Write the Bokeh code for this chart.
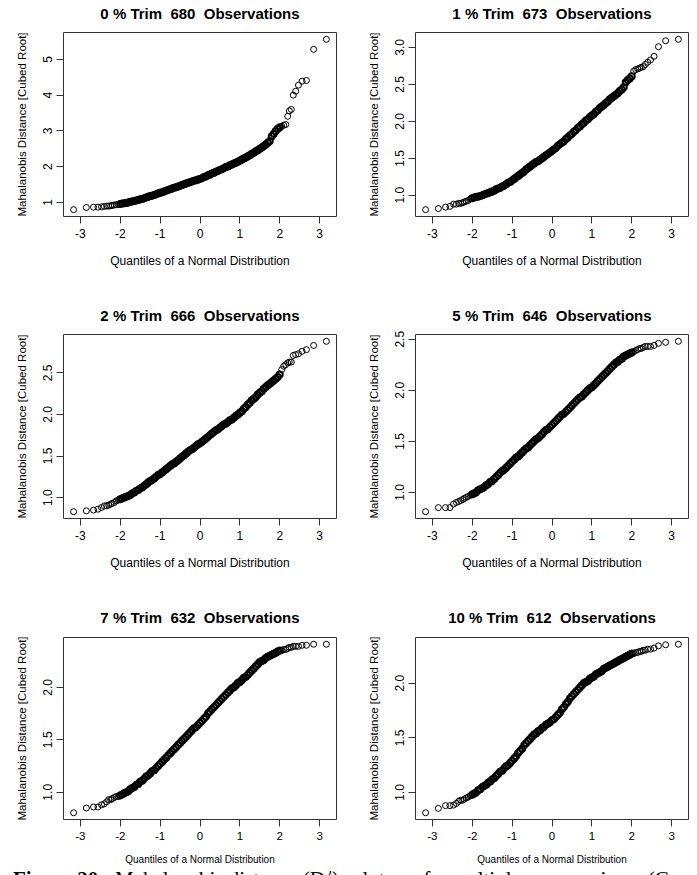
from bokeh.plotting import figure
from bokeh.layouts import column, row
from bokeh.models import FixedTicker, PrintfTickFormatter, Range1d, Div
from bokeh.core.properties import value
from bokeh.embed import file_html
from bokeh.resources import INLINE

# ---------------- data ----------------
TITLES = ["0 % Trim  680  Observations", "1 % Trim  673  Observations",
          "2 % Trim  666  Observations", "5 % Trim  646  Observations",
          "7 % Trim  632  Observations", "10 % Trim  612  Observations"]
X_LABEL = "Quantiles of a Normal Distribution"
Y_LABEL = "Mahalanobis Distance [Cubed Root]"
X_TICKS = [-3, -2, -1, 0, 1, 2, 3]
Y_TICKS = [[1, 2, 3, 4, 5], [1.0, 1.5, 2.0, 2.5, 3.0], [1.0, 1.5, 2.0, 2.5],
           [1.0, 1.5, 2.0, 2.5], [1.0, 1.5, 2.0], [1.0, 1.5, 2.0]]
Y_FORMATS = ["%d", "%.1f", "%.1f", "%.1f", "%.1f", "%.1f"]

# normal quantiles (x) of the sparse lower tail, the dense body and the sparse upper tail
X_TAIL_LO = [-3.17, -2.85, -2.67, -2.56, -2.47, -2.40, -2.34, -2.29, -2.24]
X_DENSE = [-2.20, -2.15, -2.10, -2.05, -2.00, -1.95, -1.90, -1.85, -1.80, -1.75,
           -1.70, -1.65, -1.60, -1.55, -1.50, -1.45, -1.40, -1.35, -1.30, -1.25,
           -1.20, -1.15, -1.10, -1.05, -1.00, -0.95, -0.90, -0.85, -0.80, -0.75,
           -0.70, -0.65, -0.60, -0.55, -0.50, -0.45, -0.40, -0.35, -0.30, -0.25,
           -0.20, -0.15, -0.10, -0.05, 0.00, 0.05, 0.10, 0.15, 0.20, 0.25,
           0.30, 0.35, 0.40, 0.45, 0.50, 0.55, 0.60, 0.65, 0.70, 0.75,
           0.80, 0.85, 0.90, 0.95, 1.00, 1.05, 1.10, 1.15, 1.20, 1.25,
           1.30, 1.35, 1.40, 1.45, 1.50, 1.55, 1.60, 1.65, 1.70, 1.75,
           1.80, 1.85, 1.90, 1.95, 2.00, 2.05, 2.10, 2.15, 2.20]
X_TAIL_HI = [2.24, 2.29, 2.34, 2.40, 2.47, 2.56, 2.67, 2.85, 3.17]

# cubed-root Mahalanobis distances, one set per panel
TRIM0_LO = [0.80, 0.86, 0.87, 0.87, 0.88, 0.89, 0.90, 0.90, 0.91]
TRIM0_MID = [0.92, 0.93, 0.94, 0.95, 0.96, 0.97, 0.98, 0.99, 1.00, 1.02,
             1.03, 1.04, 1.06, 1.07, 1.09, 1.10, 1.12, 1.14, 1.16, 1.18,
             1.19, 1.21, 1.23, 1.25, 1.27, 1.29, 1.31, 1.33, 1.35, 1.37,
             1.39, 1.41, 1.43, 1.45, 1.47, 1.49, 1.51, 1.53, 1.55, 1.57,
             1.59, 1.61, 1.62, 1.64, 1.66, 1.68, 1.71, 1.73, 1.76, 1.78,
             1.81, 1.83, 1.86, 1.88, 1.91, 1.93, 1.96, 1.99, 2.01, 2.04,
             2.06, 2.09, 2.11, 2.14, 2.17, 2.20, 2.23, 2.26, 2.29, 2.32,
             2.36, 2.39, 2.43, 2.46, 2.50, 2.54, 2.58, 2.62, 2.67, 2.72,
             2.85, 2.92, 3.00, 3.06, 3.10, 3.13, 3.16, 3.18, 3.41]
TRIM0_HI = [3.56, 3.60, 4.00, 4.11, 4.28, 4.39, 4.41, 5.28, 5.56]

TRIM1_LO = [0.805, 0.82, 0.84, 0.85, 0.88, 0.88, 0.89, 0.89, 0.90]
TRIM1_MID = [0.91, 0.92, 0.93, 0.95, 0.96, 0.97, 0.98, 0.98, 0.99, 1.00,
             1.01, 1.02, 1.03, 1.04, 1.05, 1.06, 1.08, 1.09, 1.10, 1.12,
             1.13, 1.15, 1.17, 1.18, 1.20, 1.22, 1.24, 1.26, 1.28, 1.30,
             1.32, 1.35, 1.37, 1.39, 1.41, 1.43, 1.45, 1.46, 1.48, 1.50,
             1.52, 1.54, 1.56, 1.58, 1.60, 1.62, 1.64, 1.67, 1.69, 1.71,
             1.73, 1.76, 1.78, 1.81, 1.83, 1.86, 1.88, 1.91, 1.93, 1.96,
             1.98, 2.01, 2.03, 2.06, 2.08, 2.10, 2.13, 2.15, 2.18, 2.20,
             2.22, 2.25, 2.27, 2.30, 2.32, 2.34, 2.36, 2.38, 2.41, 2.43,
             2.46, 2.53, 2.56, 2.58, 2.61, 2.68, 2.70, 2.71, 2.72]
TRIM1_HI = [2.73, 2.74, 2.77, 2.80, 2.83, 2.88, 3.01, 3.09, 3.11]

TRIM2_LO = [0.83, 0.84, 0.85, 0.86, 0.88, 0.90, 0.90, 0.91, 0.92]
TRIM2_MID = [0.93, 0.94, 0.96, 0.97, 0.98, 0.99, 1.00, 1.01, 1.02, 1.03,
             1.05, 1.06, 1.08, 1.09, 1.11, 1.12, 1.14, 1.16, 1.18, 1.20,
             1.21, 1.23, 1.25, 1.27, 1.28, 1.30, 1.32, 1.34, 1.36, 1.38,
             1.40, 1.41, 1.43, 1.45, 1.47, 1.49, 1.51, 1.53, 1.55, 1.57,
             1.58, 1.60, 1.62, 1.64, 1.65, 1.67, 1.69, 1.71, 1.73, 1.75,
             1.77, 1.79, 1.81, 1.82, 1.84, 1.86, 1.88, 1.89, 1.91, 1.93,
             1.94, 1.96, 1.98, 2.00, 2.02, 2.04, 2.07, 2.09, 2.12, 2.14,
             2.17, 2.19, 2.21, 2.24, 2.26, 2.28, 2.31, 2.33, 2.35, 2.37,
             2.39, 2.41, 2.43, 2.45, 2.48, 2.54, 2.58, 2.60, 2.62]
TRIM2_HI = [2.63, 2.63, 2.71, 2.72, 2.73, 2.76, 2.78, 2.83, 2.88]

TRIM5_LO = [0.81, 0.85, 0.85, 0.85, 0.885, 0.90, 0.91, 0.92, 0.93]
TRIM5_MID = [0.94, 0.95, 0.96, 0.97, 0.98, 0.99, 1.00, 1.02, 1.03, 1.04,
             1.05, 1.07, 1.08, 1.10, 1.11, 1.13, 1.15, 1.17, 1.19, 1.21,
             1.22, 1.24, 1.26, 1.28, 1.30, 1.32, 1.34, 1.35, 1.37, 1.39,
             1.41, 1.43, 1.44, 1.46, 1.48, 1.50, 1.52, 1.53, 1.55, 1.57,
             1.59, 1.61, 1.62, 1.64, 1.66, 1.68, 1.70, 1.72, 1.74, 1.76,
             1.77, 1.79, 1.81, 1.83, 1.85, 1.87, 1.89, 1.91, 1.93, 1.94,
             1.96, 1.98, 2.00, 2.02, 2.03, 2.05, 2.07, 2.09, 2.11, 2.13,
             2.15, 2.17, 2.19, 2.21, 2.23, 2.25, 2.27, 2.28, 2.30, 2.31,
             2.33, 2.34, 2.35, 2.36, 2.37, 2.38, 2.39, 2.40, 2.41]
TRIM5_HI = [2.41, 2.42, 2.43, 2.43, 2.43, 2.44, 2.46, 2.47, 2.48]

TRIM7_LO = [0.805, 0.85, 0.86, 0.86, 0.88, 0.89, 0.91, 0.93, 0.93]
TRIM7_MID = [0.94, 0.95, 0.96, 0.96, 0.97, 0.98, 0.99, 1.00, 1.01, 1.03,
             1.04, 1.05, 1.07, 1.08, 1.10, 1.11, 1.13, 1.15, 1.16, 1.18,
             1.20, 1.21, 1.23, 1.25, 1.27, 1.29, 1.31, 1.33, 1.35, 1.37,
             1.39, 1.41, 1.43, 1.45, 1.47, 1.49, 1.51, 1.53, 1.55, 1.57,
             1.59, 1.61, 1.62, 1.64, 1.66, 1.68, 1.70, 1.72, 1.75, 1.77,
             1.79, 1.81, 1.83, 1.85, 1.87, 1.89, 1.91, 1.93, 1.95, 1.97,
             1.99, 2.00, 2.02, 2.04, 2.05, 2.07, 2.09, 2.10, 2.12, 2.14,
             2.16, 2.18, 2.20, 2.22, 2.24, 2.25, 2.26, 2.28, 2.29, 2.30,
             2.31, 2.32, 2.33, 2.34, 2.35, 2.35, 2.36, 2.36, 2.37]
TRIM7_HI = [2.38, 2.38, 2.39, 2.39, 2.39, 2.40, 2.40, 2.41, 2.41]

TRIM10_LO = [0.815, 0.855, 0.88, 0.88, 0.885, 0.90, 0.92, 0.93, 0.93]
TRIM10_MID = [0.94, 0.95, 0.96, 0.97, 0.98, 0.99, 1.00, 1.02, 1.03, 1.05,
              1.06, 1.07, 1.09, 1.10, 1.12, 1.13, 1.15, 1.17, 1.19, 1.20,
              1.22, 1.24, 1.25, 1.27, 1.29, 1.31, 1.33, 1.36, 1.38, 1.40,
              1.43, 1.45, 1.47, 1.49, 1.51, 1.53, 1.54, 1.56, 1.57, 1.59,
              1.60, 1.62, 1.63, 1.64, 1.66, 1.67, 1.69, 1.71, 1.73, 1.76,
              1.78, 1.81, 1.83, 1.86, 1.88, 1.90, 1.92, 1.94, 1.96, 1.98,
              2.00, 2.01, 2.02, 2.04, 2.05, 2.06, 2.08, 2.09, 2.10, 2.11,
              2.13, 2.14, 2.15, 2.16, 2.17, 2.18, 2.19, 2.20, 2.21, 2.22,
              2.23, 2.24, 2.25, 2.26, 2.27, 2.27, 2.28, 2.28, 2.29]
TRIM10_HI = [2.29, 2.30, 2.30, 2.31, 2.31, 2.32, 2.34, 2.35, 2.355]

PANEL_Y = [(TRIM0_LO, TRIM0_MID, TRIM0_HI), (TRIM1_LO, TRIM1_MID, TRIM1_HI),
           (TRIM2_LO, TRIM2_MID, TRIM2_HI), (TRIM5_LO, TRIM5_MID, TRIM5_HI),
           (TRIM7_LO, TRIM7_MID, TRIM7_HI), (TRIM10_LO, TRIM10_MID, TRIM10_HI)]

CAPTION_BOLD = "Figure 20."
CAPTION_LEFT = "Mahalanobis distance (D"
CAPTION_SUP = "2"
CAPTION_LEFT_END = ")"
CAPTION_RIGHT = "plots of multiple regression (C"

# ---------------- styling ----------------
SANS = "Liberation Sans"
SERIF = "Liberation Serif"
PAGE_W = 697
LEFT_W, RIGHT_W = 355, 342
FRAME_L = (63, 60)      # left border of the frame inside each column's figure
FRAME_W = 273


def strip(titles):
    """A thin band holding the two panel titles of one row, centred over the frames."""
    s = figure(width=PAGE_W, height=24, output_backend="svg", toolbar_location=None,
               title=None, x_range=Range1d(0, PAGE_W), y_range=Range1d(0, 24),
               x_axis_type=None, y_axis_type=None,
               min_border_left=0, min_border_right=0, min_border_top=0, min_border_bottom=0)
    s.outline_line_color = None
    s.xgrid.visible = False
    s.ygrid.visible = False
    centres = [FRAME_L[0] + FRAME_W / 2, LEFT_W + FRAME_L[1] + FRAME_W / 2]
    s.text(x=centres, y=[11, 11], text=[t.replace("  ", "\u00a0 ") for t in titles],
           text_font=value(SANS), text_font_size="15px", text_font_style="bold",
           text_color="black", text_align="center", text_baseline="middle")
    return s


def make_panel(k, col, rowi):
    lo, mid, hi = PANEL_Y[k]
    x_all = X_TAIL_LO + X_DENSE + X_TAIL_HI
    y_all = lo + mid + hi
    xpad = 0.04 * (max(x_all) - min(x_all))
    ypad = 0.04 * (max(y_all) - min(y_all))
    bottom = rowi == 2
    width = LEFT_W if col == 0 else RIGHT_W
    bl = FRAME_L[col]
    br = width - bl - FRAME_W
    if bottom:
        height, bt, bb = 239, 9, 46
    else:
        height, bt, bb = 278, 8, 86
    p = figure(width=width, height=height, output_backend="svg", toolbar_location=None,
               title=None,
               x_range=Range1d(min(x_all) - xpad, max(x_all) + xpad),
               y_range=Range1d(min(y_all) - ypad, max(y_all) + ypad),
               min_border_left=bl, min_border_right=br,
               min_border_top=bt, min_border_bottom=bb)

    p.xgrid.visible = False
    p.ygrid.visible = False
    p.outline_line_color = "#333333"
    p.outline_line_width = 1
    p.outline_line_alpha = 1.0
    p.background_fill_color = "white"
    p.border_fill_color = "white"

    xa = p.xaxis[0]
    xa.ticker = FixedTicker(ticks=X_TICKS)
    xa.formatter = PrintfTickFormatter(format="%d")
    xa.minor_tick_line_color = None
    xa.axis_line_color = None
    xa.major_tick_in = 0
    xa.major_tick_out = 7
    xa.major_tick_line_color = "#333333"
    xa.major_label_standoff = 5
    xa.major_label_text_color = "black"
    xa.major_label_text_font = SANS
    xa.major_label_text_font_size = "11.5px" if bottom else "12px"
    xa.axis_label = X_LABEL
    xa.axis_label_text_font = SANS
    xa.axis_label_text_font_size = "10px" if bottom else "12px"
    xa.axis_label_text_font_style = "normal"
    xa.axis_label_text_color = "black"
    xa.axis_label_standoff = 11 if bottom else 13

    ya = p.yaxis[0]
    ya.ticker = FixedTicker(ticks=Y_TICKS[k])
    ya.formatter = PrintfTickFormatter(format=Y_FORMATS[k])
    ya.minor_tick_line_color = None
    ya.axis_line_color = None
    ya.major_tick_in = 0
    ya.major_tick_out = 7
    ya.major_tick_line_color = "#333333"
    ya.major_label_standoff = 4
    ya.major_label_orientation = "vertical"
    ya.major_label_text_color = "black"
    ya.major_label_text_font = SANS
    ya.major_label_text_font_size = "12px"
    ya.axis_label = Y_LABEL
    ya.axis_label_text_font = SANS
    ya.axis_label_text_font_size = "11.5px"
    ya.axis_label_text_font_style = "normal"
    ya.axis_label_text_color = "black"
    ya.axis_label_standoff = 13

    # rings: the dense middle of the body overlaps into a solid band, so draw it heavier
    widths = [2.0 if abs(xv) <= 2.0 else 1.0 for xv in x_all]
    p.scatter(x_all, y_all, marker="circle", size=6, fill_color=None,
              line_color="black", line_width=widths)
    return p


panels = [make_panel(k, k % 2, k // 2) for k in range(6)]

# page caption, cut off by the bottom edge of the page as in the reference
span = "<span style=\"position:absolute;left:{}px;top:-3px;{}\">{}</span>"
caption_html = (
    "<div style=\"position:relative;width:697px;height:8px;overflow:hidden;"
    "white-space:nowrap;font-family:'Liberation Serif';font-size:21px;"
    "line-height:22px;color:black;\">"
    + span.format(13, "font-weight:bold;", CAPTION_BOLD)
    + span.format(115, "", CAPTION_LEFT
                  + "<span style=\"position:relative;top:-7px;font-size:14px;line-height:0;\">"
                  + CAPTION_SUP + "</span>" + CAPTION_LEFT_END)
    + span.format(352, "word-spacing:15px;", CAPTION_RIGHT)
    + "</div>")
caption = Div(text=caption_html, width=PAGE_W, height=8,
              styles={"overflow": "hidden", "margin": "0", "padding": "0"})

layout = column(strip(TITLES[0:2]), row(panels[0], panels[1]),
                strip(TITLES[2:4]), row(panels[2], panels[3]),
                strip(TITLES[4:6]), row(panels[4], panels[5]),
                caption)

open("out.html", "w").write(file_html(layout, INLINE))
